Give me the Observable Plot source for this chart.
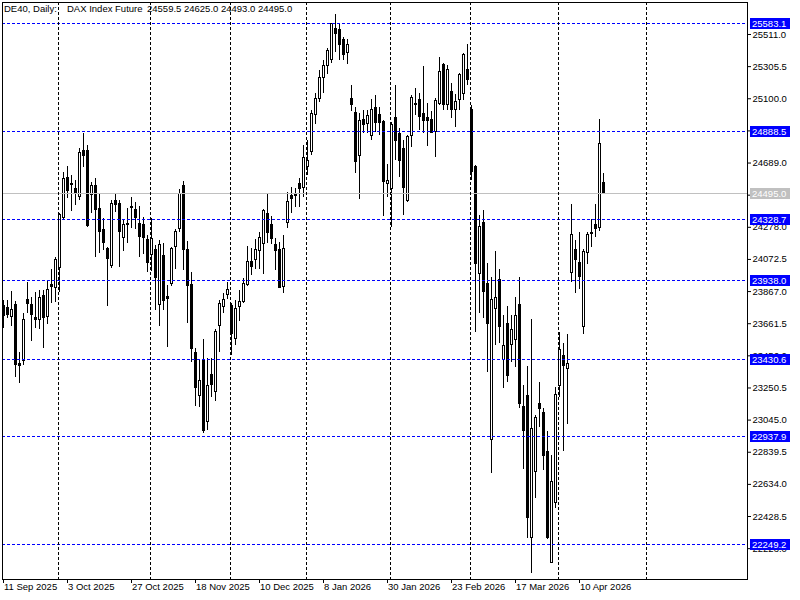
<!DOCTYPE html>
<html><head><meta charset="utf-8">
<script src="https://cdn.jsdelivr.net/npm/d3@7"></script>
<script src="https://cdn.jsdelivr.net/npm/@observablehq/plot@0.6"></script>
<style>
body{margin:0;background:#fff;}
#chart svg{display:block;}
#chart svg rect, #chart svg line{shape-rendering:crispEdges;}
</style></head><body><div id="chart"></div>
<script>
// Daily bars (index 0 = 11 Sep 2025 ... index 150 = 20 Apr 2026)
const opens=[23772,23765,23703,23778,23405,23424,23814,23784,23699,23687,23836,23703,23906,23891,24019,24339,24595,24558,24520,24473,24769,24769,24486,24539,24392,24258,24142,24029,24448,24424,24211,24291,24411,24390,24302,24294,24194,24102,24136,23782,24096,23831,23914,24153,24266,24539,24130,23912,23473,23201,23426,23032,23335,23226,23646,23767,23846,23772,23561,23767,23799,23912,24059,24072,24125,24173,24364,24290,24168,24136,23895,24304,24481,24491,24555,24531,24662,24758,24998,25100,25234,25308,25345,25549,25537,25473,25394,25100,25010,24735,24966,24940,24861,25040,24999,24950,24556,24524,24978,24876,24780,24445,24865,25068,25095,25004,24976,24961,24886,25068,25313,25063,25142,25025,25089,25132,25285,25031,24662,23981,24307,23917,22915,23757,23938,23431,23661,23527,23559,23778,23132,23196,22290,22712,23145,23092,22840,22130,22514,23262,23454,23373,23985,24136,24047,23639,24112,24238,24290,24272,24559.5];
const highs=[23810,23810,23868,23804,23479,23725,23925,23831,23859,23874,23874,23933,24008,24087,24364,24627,24667,24609,24577,24782,24878,24801,24565,24590,24492,24334,24147,24449,24492,24449,24322,24396,24471,24439,24411,24339,24224,24332,24162,24194,24173,23906,24147,24264,24518,24571,24187,23991,23501,23431,23561,23439,23439,23623,23810,23857,23923,23789,23810,23874,23949,24155,24144,24200,24247,24390,24492,24347,24205,24183,24226,24503,24534,24524,24588,24801,24833,25025,25132,25281,25345,25420,25580,25639,25583,25494,25477,25185,25046,25004,25025,25025,25093,25121,25044,24961,24678,24950,25185,24908,24833,24865,25121,25164,25132,25306,25068,25021,25100,25366,25326,25313,25196,25127,25260,25391,25447,25057,24673,24354,24385,24045,23959,24125,24006,23714,23772,23714,23831,23959,23266,23388,23688,23075,23287,23119,22972,22819,23255,23607,23537,23593,24424,24194,24243,24136,24247,24328,24424,24967,24625.0];
const lows=[23631,23695,23644,23319,23281,23394,23729,23550,23629,23626,23505,23655,23793,23799,23859,24328,24460,24381,24419,24449,24660,24279,24364,24087,24109,24130,23773,24013,24373,24023,24125,24173,24272,24266,24087,24104,23991,23997,23744,23646,23746,23511,23899,24010,24247,24000,23665,23412,23134,23124,22961,22979,23188,23162,23479,23725,23816,23458,23522,23676,23789,23899,23970,24010,24010,23976,24173,24168,24002,23889,23857,24268,24364,24407,24407,24471,24609,24737,24935,25078,25136,25255,25327,25398,25345,25345,25319,25021,24620,24454,24880,24880,24833,24886,24865,24349,24471,24279,24705,24598,24354,24439,24790,24993,24897,24876,24797,24876,24723,25057,25025,25025,24972,24914,25025,25089,25185,24577,23607,23725,23693,23351,22706,23522,23533,23249,23287,23415,23383,23121,22727,22290,22062,22546,23000,22723,22280,22126,22478,23192,22846,23017,23927,23853,23878,23591,24038,24151,24215,24253,24493.0];
const closes=[23708,23714,23750,23397,23390,23687,23786,23719,23684,23829,23697,23880,23895,24066,24358,24588,24509,24547,24490,24756,24737,24285,24539,24387,24249,24176,24074,24430,24419,24249,24294,24298,24400,24336,24215,24211,24051,24205,23953,24168,23808,23821,24142,24245,24492,24134,23901,23501,23249,23298,22974,23264,23271,23610,23789,23814,23878,23594,23757,23802,23917,24053,24027,24136,24211,24385,24240,24200,24125,23891,24141,24443,24456,24478,24523,24723,24705,25004,25100,25234,25311,25404,25579,25515,25445,25377,25441,25061,24694,24955,24934,24987,25031,24944,24944,24566,24577,24934,24829,24701,24531,24854,25104,25061,24982,24957,24957,24880,25084,25270,25063,25281,25025,25078,25249,25377,25217,24630,24045,24283,23863,23661,23816,23827,23639,23522,23330,23623,23708,23149,22974,22418,22989,23060,23113,22814,22292,22648,23207,23495,23390,23401,24226,24072,23963,24123,24230,24242,24264,24808,24495.0];

// time axis labels (bar index -> label)
const dateTickIndex=[0,16,32,48,64,80,96,112,128,144];
const dateTickLabels=["11 Sep 2025","3 Oct 2025","27 Oct 2025","18 Nov 2025","10 Dec 2025","8 Jan 2026","30 Jan 2026","23 Feb 2026","17 Mar 2026","10 Apr 2026"];
// monthly period separators (bar index of first bar of month)
const monthSeparators=[14,37,57,76,97,117,139,161];
// price scale ticks
const priceTicks=[22223.0,22428.5,22634.0,22839.5,23045.0,23250.5,23456.0,23661.5,23867.0,24072.5,24278.0,24483.5,24689.0,24894.5,25100.0,25305.5,25511.0];
// horizontal level lines
const levelLines=[25583.1,24888.5,24328.7,23938.0,23430.6,22937.9,22249.2];
const bidPrice=24495.0;
// header
const headerSymbol="DE40, Daily:";
const headerName="DAX Index Future";
const headerOHLC=["24559.5","24625.0","24493.0","24495.0"];

const bars=opens.map((o,i)=>({i,o,h:highs[i],l:lows[i],c:closes[i],up:closes[i]>=o}));
const FONT='"Liberation Sans",Arial,sans-serif';
const FS=9.5;

const chart=Plot.plot({
  width:800,height:600,marginLeft:2,marginRight:53,marginTop:2,marginBottom:21,
  style:{fontFamily:FONT,fontSize:FS+"px",color:"#000",background:"#fff"},
  x:{type:"linear",domain:[-0.25,186],axis:"bottom",ticks:dateTickIndex,tickFormat:()=>"",tickSize:4,label:null},
  y:{type:"linear",domain:[22025.7,25715.6],axis:"right",ticks:priceTicks,tickFormat:d=>d.toFixed(1),tickSize:3,tickPadding:2,label:null},
  marks:[
    Plot.ruleX(bars,{x:"i",y1:"l",y2:"h",stroke:"#000",strokeWidth:1}),
    Plot.rect(bars,{x1:d=>d.i-0.5,x2:d=>d.i+0.5,insetLeft:1.5,insetRight:0.5,y1:"o",y2:"c",fill:d=>d.up?"#ffffff":"#000000",stroke:"#000",strokeWidth:1}),
    Plot.ruleY([bidPrice],{stroke:"#c0c0c0",strokeWidth:1}),
    Plot.ruleY(levelLines,{stroke:"#0000ff",strokeWidth:1,strokeDasharray:"3,2"}),
    Plot.ruleX(monthSeparators,{x:d=>d-0.25,stroke:"#000",strokeWidth:1,strokeDasharray:"3,2"}),
    Plot.frame({stroke:"#000"}),
    Plot.text(dateTickIndex,{x:d=>d,frameAnchor:"bottom",dy:10,dx:0.5,textAnchor:"start",text:(d,k)=>dateTickLabels[k],fill:"#000"})
  ]
});
document.getElementById("chart").appendChild(chart);

// price label boxes on the right scale
const ys=chart.scale("y");
const yf=ys.apply?ys.apply:d3.scaleLinear().domain(ys.domain).range(ys.range);
const svg=d3.select(chart);
const boxes=levelLines.map(v=>({v,bg:"#0000ff"})).concat([{v:bidPrice,bg:"#c0c0c0"}]);
const g=svg.append("g").attr("font-family",FONT).attr("font-size",FS).attr("text-anchor","start");
boxes.forEach(b=>{
  const y=Math.round(yf(b.v));
  g.append("rect").attr("x",750).attr("y",y-5).attr("width",40).attr("height",11).attr("fill",b.bg);
  g.append("text").attr("x",752).attr("y",y+1).attr("dy","0.32em").attr("fill","#fff").text(b.v.toFixed(1));
});
// header
const hg=svg.append("g").attr("font-family",FONT).attr("font-size",FS).attr("fill","#000").attr("text-anchor","start");
hg.append("text").attr("x",4).attr("y",12).text(headerSymbol);
hg.append("text").attr("x",67).attr("y",12).text(headerName);
hg.append("text").attr("x",147).attr("y",12).text(headerOHLC.join(" "));
</script></body></html>
